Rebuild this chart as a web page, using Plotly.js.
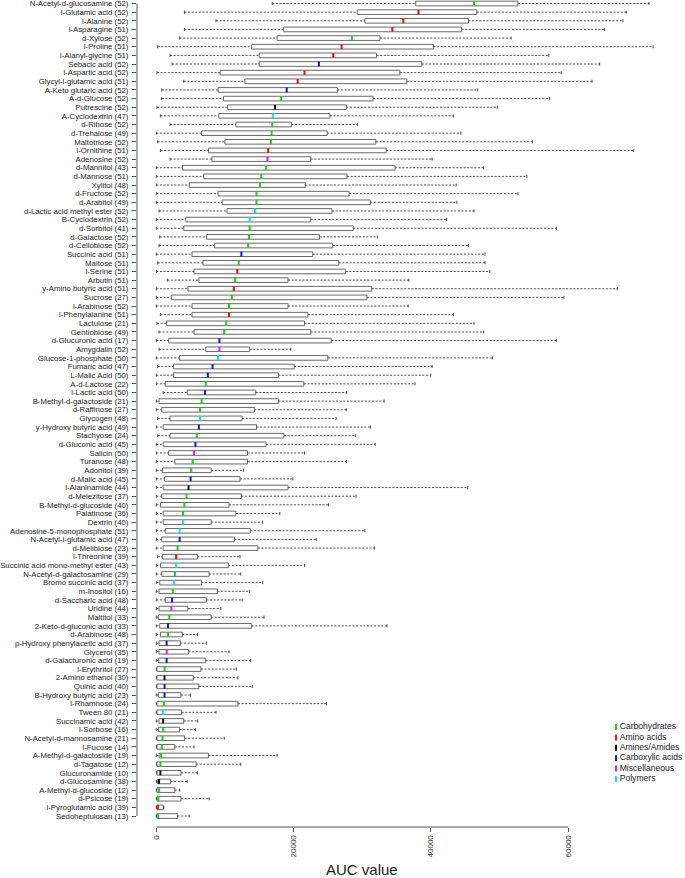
<!DOCTYPE html>
<html>
<head>
<meta charset="utf-8">
<script src="https://cdn.plot.ly/plotly-3.0.1.min.js"></script>
<style>html,body{margin:0;padding:0;background:#fff;}#chart{width:685px;height:878px;}</style>
</head>
<body>
<div id="chart"></div>
<script>
const names = ["N-Acetyl-d-glucosamine","l-Glutamic acid","l-Alanine","l-Asparagine","d-Xylose","l-Proline","l-Alanyl-glycine","Sebacic acid","l-Aspartic acid",
"Glycyl-l-glutamic acid","A-Keto glutaric acid","A-d-Glucose","Putrescine","A-Cyclodextrin","d-Ribose","d-Trehalose","Maltotriose","l-Ornithine",
"Adenosine","d-Mannitol","d-Mannose","Xylitol","d-Fructose","d-Arabitol","d-Lactic acid methyl ester","B-Cyclodextrin",
"d-Sorbitol","d-Galactose","d-Cellobiose","Succinic acid","Maltose","l-Serine","Arbutin","y-Amino butyric acid","Sucrose",
"l-Arabinose","l-Phenylalanine","Lactulose","Gentiobiose","d-Glucuronic acid","Amygdalin","Glucose-1-phosphate","Fumaric acid",
"L-Malic Acid","A-d-Lactose","l-Lactic acid","B-Methyl-d-galactoside","d-Raffinose","Glycogen","y-Hydroxy butyric acid","Stachyose","d-Gluconic acid",
"Salicin","Turanose","Adonitol","d-Malic acid","l-Alaninamide","d-Melezitose","B-Methyl-d-glucoside","Palatinose",
"Dextrin","Adenosine-5-monophosphate","N-Acetyl-l-glutamic acid","d-Melibiose","l-Threonine","Succinic acid mono-methyl ester","N-Acetyl-d-galactosamine","Bromo succinic acid","m-Inositol",
"d-Saccharic acid","Uridine","Maltitol","2-Keto-d-gluconic acid","d-Arabinose","p-Hydroxy phenylacetic acid","Glycerol","d-Galacturonic acid",
"l-Erythritol","2-Amino ethanol","Quinic acid","B-Hydroxy butyric acid","l-Rhamnose","Tween 80","Succinamic acid","l-Sorbose","N-Acetyl-d-mannosamine",
"l-Fucose","A-Methyl-d-galactoside","d-Tagatose","Glucuronamide","d-Glucosamine","A-Methyl-d-glucoside","d-Psicose","l-Pyroglutamic acid","Sedoheptulosan"];

const counts = [52,52,52,51,52,51,51,52,52,
51,52,52,52,47,52,49,52,51,
52,43,51,48,52,49,52,52,
41,52,52,51,51,51,51,51,27,
52,51,21,49,17,52,50,47,
50,22,50,21,27,48,49,24,45,
50,48,39,45,44,37,40,36,
40,51,47,23,39,43,29,37,16,
48,44,33,33,48,37,35,19,
27,30,40,23,24,21,42,16,21,
14,19,12,10,38,12,19,39,13];

// C=Carbohydrates A=Amino acids M=Amines/Amides X=Carboxylic acids S=Miscellaneous P=Polymers
const groups = ["C","A","A","A","C","A","A","X","A",
"A","X","C","M","P","C","C","C","A",
"S","C","C","C","C","C","P","P",
"C","C","C","X","C","A","C","A","C",
"C","A","C","C","X","S","P","X",
"X","C","X","C","C","P","X","C","X",
"S","C","C","X","M","C","C","C",
"P","P","X","C","A","P","C","P","C",
"X","S","C","X","C","X","S","X",
"C","M","X","X","C","P","M","C","C",
"C","C","C","M","M","C","C","A","C"];

const lowerWhisker = [16900,4100,8700,4100,3400,200,2000,2300,100,
4000,800,800,100,600,2000,0,200,600,
2000,0,0,0,0,0,400,0,
0,500,400,0,200,0,1600,0,0,
0,600,100,400,0,400,0,200,
0,0,1000,0,0,200,0,200,0,
0,0,0,0,0,0,0,0,
0,0,0,0,200,0,0,0,0,
0,0,0,0,0,0,0,0,
0,0,0,0,0,0,0,0,0,
0,0,0,0,0,0,0,0,0];

const q1 = [37800,29300,30400,18500,17600,13900,15000,15000,9300,
12900,9000,9800,10400,9100,11600,6600,10000,7600,
8100,3800,6900,4800,9000,9600,10300,4300,
4000,7300,8500,5200,6800,5500,6200,4600,2200,
5200,5200,1500,5500,1800,7200,3400,2500,
2500,1300,4500,400,800,2000,1000,2000,1000,
1800,2700,900,1200,1000,800,600,1000,
1000,1300,800,1000,900,600,800,500,400,
1300,400,300,500,600,400,400,300,
100,100,100,300,100,100,400,300,100,
100,400,100,100,200,100,100,100,100];

const median = [46300,38200,36000,34400,28500,27000,25800,23700,21600,
20600,19000,18200,17300,17000,16900,16800,16700,16300,
16200,16000,15300,15100,14600,14600,14400,13600,
13600,13500,13400,12400,12000,11800,11500,11300,11000,
10600,10600,10200,9900,9200,9200,9000,8200,
7500,7200,7100,6600,6400,6400,6200,5900,5700,
5500,5300,5100,5000,4700,4400,4100,3900,
3900,3400,3400,3100,2900,2900,2700,2600,2400,
2300,2200,1900,1700,1700,1500,1500,1500,
1200,1200,1200,1200,1100,1000,1000,1000,900,
800,700,600,600,400,400,300,200,200];

const q3 = [52700,46700,45500,44500,32600,40400,32100,38700,35500,
36500,26400,31600,27700,25300,19700,24900,32000,33500,
22500,34800,27800,21700,28100,31200,25600,22500,
28700,23800,25700,22800,26600,27600,19200,31400,30700,
19200,22100,21600,22500,25500,13600,25000,20100,
17800,21500,14500,17800,14300,12500,14600,18600,16000,
13300,13300,8000,12200,19200,12400,10600,11600,
8000,13700,11400,14800,6000,10500,7700,6600,8900,
7300,4600,8000,13900,3800,3500,4700,7200,
6500,5400,6200,3600,11900,3700,4000,3400,4100,
2700,7600,5800,3600,2100,2700,3600,1000,3100];

const upperWhisker = [71800,68500,68000,65300,51700,72400,57200,64600,59000,
63500,46800,57300,49700,43300,29300,44400,54800,69500,
40200,47700,54000,43700,52700,43800,46300,42300,
58300,32200,45500,47900,47900,48600,36800,67200,59400,
36700,43300,46300,47700,58300,19600,49000,40200,
40000,37700,27700,33200,27700,26200,31200,29000,31900,
21600,27700,12700,19900,45400,29100,25100,18000,
15500,30400,23300,31800,12200,21600,12300,15500,13600,
12500,9400,15700,33600,6000,7300,10600,13700,
11700,11900,14000,5000,24800,8700,6000,5700,9900,
5500,17600,12300,6000,4500,3400,7700,1100,4800];

const groupNames = {C:"Carbohydrates", A:"Amino acids", M:"Amines/Amides", X:"Carboxylic acids", S:"Miscellaneous", P:"Polymers"};
const groupOrder = ["C","A","M","X","S","P"];
const groupColors = {C:"#1ed01e", A:"#f01010", M:"#111111", X:"#1414f0", S:"#f012f0", P:"#10e6e6"};

const xTickVals = [0, 20000, 40000, 60000];
const xTickText = ["0", "20000", "40000", "60000"];

const n = names.length;
const idx = names.map((_, i) => i);
const labels = names.map((nm, i) => nm + " (" + counts[i] + ")");

// whiskers (dashed)
const wx = [], wy = [];
for (let i = 0; i < n; i++) {
  wx.push(lowerWhisker[i], q1[i], null, q3[i], upperWhisker[i], null);
  wy.push(i, i, null, i, i, null);
}

const traces = [];
traces.push({
  type: "scatter", mode: "lines", x: wx, y: wy,
  line: {color: "#4a4a4a", width: 1, dash: "2px,1.6px"},
  hoverinfo: "skip", showlegend: false
});
traces.push({
  type: "scatter", mode: "markers",
  x: lowerWhisker.concat(upperWhisker), y: idx.concat(idx),
  marker: {symbol: "line-ns", size: 2.2, line: {color: "#4a4a4a", width: 1}},
  hoverinfo: "skip", showlegend: false
});
traces.push({
  type: "box", orientation: "h", y: idx,
  q1: q1, median: median, q3: q3, lowerfence: q1, upperfence: q3,
  width: 0.54, whiskerwidth: 0, boxpoints: false,
  fillcolor: "#ffffff", line: {color: "#6a6a6a", width: 1},
  hoverinfo: "skip", showlegend: false
});
traces.push({
  type: "scatter", mode: "markers", x: median, y: idx,
  marker: {symbol: "line-ns", size: 3.4, line: {width: 2, color: groups.map(g => groupColors[g])}},
  hoverinfo: "skip", showlegend: false
});

// pseudo-legend on an overlay axis measured in pixels
const legX = 616, legY0 = 727, legStep = 10.4;
traces.push({
  type: "scatter", mode: "markers+text", xaxis: "x2", yaxis: "y2",
  x: groupOrder.map(() => legX), y: groupOrder.map((g, i) => legY0 + i * legStep),
  text: groupOrder.map(g => groupNames[g]), textposition: "middle right",
  textfont: {family: "Liberation Sans, Arial, sans-serif", size: 8.6, color: "#222"},
  marker: {symbol: "line-ns", size: 4.3, line: {width: 2, color: groupOrder.map(g => groupColors[g])}},
  hoverinfo: "skip", showlegend: false, cliponaxis: false
});

const layout = {
  width: 685, height: 878,
  margin: {l: 137, r: 10, t: 0, b: 51},
  paper_bgcolor: "#fff", plot_bgcolor: "rgba(0,0,0,0)",
  font: {family: "Liberation Sans, Arial, sans-serif", color: "#222"},
  showlegend: false,
  xaxis: {
    range: [-2813, 75590], tickvals: xTickVals, ticktext: xTickText,
    tickangle: -90, ticks: "outside", ticklen: 4, tickcolor: "#555", tickwidth: 1,
    showline: false, showgrid: false, zeroline: false,
    tickfont: {size: 8, color: "#333"}
  },
  yaxis: {
    range: [95.27, -0.405], tickvals: idx, ticktext: labels,
    ticks: "outside", ticklen: 4, tickcolor: "#555", tickwidth: 1,
    showline: false, showgrid: false, zeroline: false,
    ticklabeloverflow: "allow", ticklabelstandoff: 2,
    tickfont: {size: 7.8, color: "#222"}
  },
  xaxis2: {domain: [0, 1], anchor: "y2", range: [137, 675], visible: false},
  yaxis2: {domain: [0, 1], anchor: "x2", range: [827, 0], visible: false},
  shapes: [
    {type: "line", xref: "x", yref: "paper", x0: xTickVals[0], x1: xTickVals[xTickVals.length - 1], y0: 0, y1: 0, line: {color: "#555", width: 1}},
    {type: "line", xref: "paper", yref: "y", x0: 0, x1: 0, y0: idx[0], y1: idx[n - 1], line: {color: "#555", width: 1}}
  ],
  annotations: [
    {xref: "x", yref: "paper", x: (xTickVals[0] + xTickVals[xTickVals.length - 1]) / 2, y: 0, yshift: -42,
     text: "AUC value", showarrow: false, xanchor: "center", yanchor: "middle",
     font: {size: 15, color: "#222"}}
  ]
};

Plotly.newPlot("chart", traces, layout, {staticPlot: true, displayModeBar: false});
</script>
</body>
</html>
